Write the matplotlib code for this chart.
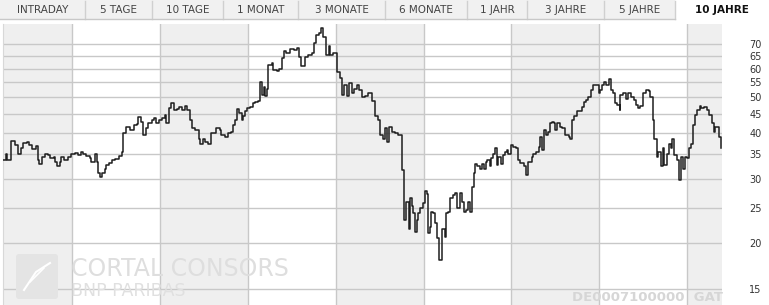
import matplotlib
matplotlib.use("Agg")
import matplotlib.pyplot as plt
from matplotlib.patches import Rectangle, FancyBboxPatch

# Kursverlauf (Wochenschluss)
years = [
    2004.22, 2004.25, 2004.26, 2004.31, 2004.35, 2004.39, 2004.42, 2004.44, 2004.49, 2004.51,
    2004.54, 2004.59, 2004.61, 2004.63, 2004.66, 2004.69, 2004.73, 2004.75, 2004.79, 2004.81,
    2004.83, 2004.86, 2004.88, 2004.91, 2004.96, 2004.99,
    2005.03, 2005.07, 2005.10, 2005.13, 2005.16, 2005.20, 2005.22, 2005.26, 2005.28, 2005.30,
    2005.32, 2005.34, 2005.38, 2005.39, 2005.42, 2005.46, 2005.49, 2005.53, 2005.57, 2005.58,
    2005.62, 2005.66, 2005.70, 2005.74, 2005.75, 2005.78, 2005.81, 2005.84, 2005.87, 2005.91,
    2005.93, 2005.96, 2005.99,
    2006.02, 2006.06, 2006.07, 2006.10, 2006.13, 2006.16, 2006.19, 2006.22, 2006.25, 2006.28,
    2006.31, 2006.34, 2006.37, 2006.40, 2006.44, 2006.46, 2006.49, 2006.51, 2006.55, 2006.58,
    2006.61, 2006.64, 2006.68, 2006.70, 2006.74, 2006.78, 2006.81, 2006.83, 2006.85, 2006.88,
    2006.90, 2006.93, 2006.95, 2006.97, 2006.99,
    2007.03, 2007.06, 2007.08, 2007.12, 2007.14, 2007.16, 2007.18, 2007.20, 2007.22, 2007.23,
    2007.27, 2007.29, 2007.33, 2007.35, 2007.39, 2007.41, 2007.44, 2007.48, 2007.52, 2007.56,
    2007.58, 2007.61, 2007.65, 2007.69, 2007.73, 2007.75, 2007.78, 2007.81, 2007.83, 2007.86,
    2007.89, 2007.92, 2007.94, 2007.97,
    2008.01, 2008.05, 2008.07, 2008.09, 2008.13, 2008.15, 2008.18, 2008.21, 2008.24, 2008.27,
    2008.30, 2008.33, 2008.37, 2008.41, 2008.45, 2008.48, 2008.50, 2008.54, 2008.56, 2008.58,
    2008.61, 2008.64, 2008.67, 2008.71, 2008.75, 2008.78, 2008.80, 2008.83, 2008.85, 2008.87,
    2008.88, 2008.90, 2008.92, 2008.94, 2008.96, 2008.99,
    2009.02, 2009.04, 2009.05, 2009.07, 2009.09, 2009.11, 2009.13, 2009.15, 2009.18, 2009.21,
    2009.24, 2009.26, 2009.28, 2009.30, 2009.33, 2009.36, 2009.38, 2009.41, 2009.44, 2009.46,
    2009.48, 2009.50, 2009.53, 2009.55, 2009.57, 2009.58, 2009.61, 2009.64, 2009.66, 2009.69,
    2009.71, 2009.72, 2009.75, 2009.77, 2009.79, 2009.81, 2009.83, 2009.85, 2009.88, 2009.90,
    2009.93, 2009.95, 2009.96, 2009.99,
    2010.02, 2010.05, 2010.07, 2010.10, 2010.14, 2010.17, 2010.19, 2010.23, 2010.25, 2010.28,
    2010.31, 2010.32, 2010.35, 2010.37, 2010.39, 2010.41, 2010.44, 2010.46, 2010.48, 2010.50,
    2010.52, 2010.55, 2010.58, 2010.61, 2010.65, 2010.67, 2010.69, 2010.71, 2010.74, 2010.78,
    2010.80, 2010.82, 2010.85, 2010.87, 2010.90, 2010.93, 2010.96, 2010.99,
    2011.01, 2011.03, 2011.05, 2011.08, 2011.11, 2011.13, 2011.16, 2011.18, 2011.20, 2011.23,
    2011.24, 2011.27, 2011.30, 2011.33, 2011.36, 2011.39, 2011.42, 2011.44, 2011.46, 2011.50,
    2011.53, 2011.56, 2011.58, 2011.61, 2011.62, 2011.65, 2011.67, 2011.70, 2011.72, 2011.74,
    2011.77, 2011.79, 2011.81, 2011.83, 2011.85, 2011.88, 2011.91, 2011.93, 2011.95, 2011.97,
    2012.00, 2012.02, 2012.04, 2012.07, 2012.09, 2012.11, 2012.14, 2012.16, 2012.19, 2012.22,
    2012.25, 2012.28, 2012.30, 2012.31, 2012.34, 2012.36, 2012.38,
]
close = [
    33.7, 35.1, 33.7, 38.1, 37.1, 35.1, 36.3, 37.6, 37.8, 37.1,
    36.1, 36.8, 33.7, 33.0, 34.3, 35.1, 34.8, 34.1, 34.4, 33.4,
    32.4, 33.4, 34.3, 33.7, 34.4, 35.1,
    35.3, 34.8, 35.5, 35.1, 34.6, 34.1, 33.4, 35.1, 33.4, 31.0,
    30.4, 31.0, 31.9, 32.7, 33.2, 33.7, 33.9, 34.6, 35.5, 39.9,
    41.4, 40.7, 42.0, 42.3, 44.2, 42.9, 39.5, 41.2, 42.5, 43.4,
    43.9, 42.5, 43.4,
    43.9, 44.8, 42.5, 46.7, 48.2, 46.3, 46.5, 47.1, 46.3, 47.4,
    46.3, 43.4, 41.2, 40.7, 38.6, 37.4, 38.4, 37.8, 37.4, 39.9,
    40.0, 41.2, 40.7, 39.5, 38.9, 39.9, 40.3, 42.0, 43.4, 46.5,
    45.3, 43.4, 44.4, 45.9, 46.7,
    47.1, 48.2, 48.7, 49.0, 55.2, 50.7, 53.4, 50.4, 52.6, 61.3,
    62.2, 59.5, 59.0, 59.9, 64.1, 67.2, 66.0, 67.7, 67.4, 68.1,
    64.6, 60.9, 64.4, 65.3, 66.0, 70.3, 74.2, 75.0, 77.4, 73.3,
    65.3, 69.1, 65.3, 66.0,
    58.6, 56.7, 50.7, 54.0, 50.4, 54.8, 51.3, 52.6, 54.2, 52.3,
    50.2, 50.4, 51.5, 48.9, 44.4, 43.4, 39.5, 38.6, 41.2, 37.8,
    41.6, 40.3, 39.9, 39.5, 31.7, 23.1, 25.9, 21.8, 26.5, 25.2,
    24.1, 21.5, 23.1, 24.1, 24.9, 25.7,
    27.8, 27.3, 21.3, 22.2, 24.4, 24.1, 22.7, 20.6, 18.0, 21.8,
    20.8, 24.1, 24.4, 26.5, 27.1, 27.5, 24.9, 27.5, 25.9, 24.4,
    24.6, 25.9, 24.4, 28.5, 31.0, 33.0, 32.4, 31.9, 33.0, 31.8,
    33.4, 33.7, 32.4, 34.1, 35.1, 36.3, 32.7, 34.4, 33.0, 34.8,
    35.5, 35.9, 35.1, 37.1,
    36.7, 36.3, 33.7, 33.2, 32.4, 30.7, 33.4, 34.4, 35.1, 35.5,
    36.7, 39.1, 35.9, 40.7, 39.5, 40.3, 42.5, 42.9, 42.5, 40.7,
    42.5, 41.6, 41.2, 39.5, 39.1, 38.6, 43.4, 44.4, 45.9, 45.9,
    47.2, 48.7, 49.2, 50.2, 52.3, 54.2, 54.0, 51.3,
    52.3, 54.2, 55.2, 54.2, 56.2, 52.3, 51.5, 48.2, 47.7, 46.3,
    50.7, 51.3, 49.5, 51.3, 50.2, 49.2, 47.7, 46.7, 47.4, 51.3,
    52.3, 52.1, 50.2, 43.4, 38.6, 34.4, 35.5, 32.4, 36.3, 32.7,
    35.1, 37.4, 36.3, 38.6, 34.8, 33.7, 29.8, 34.4, 31.8, 34.4,
    34.1, 36.3, 37.4, 42.0, 44.8, 46.3, 47.4, 46.7, 47.2, 46.1,
    44.8, 42.5, 40.3, 41.6, 41.6, 39.1, 36.3,
]

y_ticks = [15, 20, 25, 30, 35, 40, 45, 50, 55, 60, 65, 70]
year_lines = [2005, 2006, 2007, 2008, 2009, 2010, 2011, 2012]
shaded_years = [(2004.215, 2005), (2006, 2007), (2008, 2009), (2010, 2011), (2012, 2012.395)]

tabs = ["INTRADAY", "5 TAGE", "10 TAGE", "1 MONAT", "3 MONATE",
        "6 MONATE", "1 JAHR", "3 JAHRE", "5 JAHRE", "10 JAHRE"]
tab_edges = [0, 85, 152, 223, 298, 385, 467, 527, 604, 675, 769]
active_tab = "10 JAHRE"

W, H = 769, 305
fig = plt.figure(figsize=(W / 100, H / 100), dpi=100)
fig.patch.set_facecolor("white")

ax = fig.add_axes([3 / W, 0, 719 / W, 281 / H])
ax.set_yscale("log")
ax.set_xlim(2004.215, 2012.395)
ax.set_ylim(13.55, 79.4)

grid_col = "#c8c8c8"
for a, b in shaded_years:
    ax.axvspan(a, b, color="#efefef", lw=0, zorder=0)
for yr in year_lines:
    ax.axvline(yr, color=grid_col, lw=1, zorder=1)
for v in y_ticks:
    ax.axhline(v, color=grid_col, lw=1, zorder=1)

ax.plot(years, close, drawstyle="steps-post", color="#1e1e1e", lw=1.1, zorder=3)

ax.set_xticks([])
ax.yaxis.set_minor_locator(matplotlib.ticker.NullLocator())
ax.set_yticks(y_ticks)
ax.set_yticklabels([str(v) for v in y_ticks])
ax.yaxis.tick_right()
ax.tick_params(axis="y", length=0, pad=19.5, labelsize=7, labelcolor="#333333")
for s in ["top", "right", "bottom"]:
    ax.spines[s].set_visible(False)
ax.spines["left"].set_color("#d8d8d8")

# overlay in Pixelkoordinaten: Reiter oben und Wasserzeichen
ov = fig.add_axes([0, 0, 1, 1], facecolor="none")
ov.set_xlim(0, W)
ov.set_ylim(H, 0)
ov.axis("off")

for i, name in enumerate(tabs):
    x0, x1 = tab_edges[i], tab_edges[i + 1]
    active = name == active_tab
    ov.add_patch(Rectangle((x0, 0), x1 - x0, 19,
                           facecolor="white" if active else "#f1f1f1",
                           edgecolor="none", zorder=1))
    if i > 0:
        ov.plot([x0, x0], [1, 19], color="#d0d0d0", lw=1, zorder=2)
    ov.text((x0 + x1) / 2, 10, name, ha="center", va="center",
            fontsize=7.5, color="#111111" if active else "#444444",
            fontweight="bold" if active else "normal", zorder=3)
ov.plot([0, tab_edges[-2]], [19, 19], color="#c8c8c8", lw=1, zorder=2)

# Wasserzeichen
ov.add_patch(FancyBboxPatch((16, 254), 42, 45, boxstyle="round,pad=0,rounding_size=3",
                            facecolor="#e4e4e4", edgecolor="none", zorder=1))
ov.plot([24, 36, 50], [290, 272, 263], color="white", lw=1.5, zorder=2)
ov.plot([30, 44], [282, 268], color="white", lw=1.2, zorder=2)
ov.text(71, 269, "CORTAL CONSORS", fontsize=17, color="#dedede",
        ha="left", va="center", zorder=1)
ov.text(71, 291, "BNP PARIBAS", fontsize=12.5, color="#e0e0e0",
        ha="left", va="center", zorder=1)
ov.text(572, 304, "DE0007100000  GAT", fontsize=9.5, color="#d6d6d6",
        fontweight="bold", ha="left", va="bottom", zorder=1)

fig.savefig("out.png", dpi=100)
